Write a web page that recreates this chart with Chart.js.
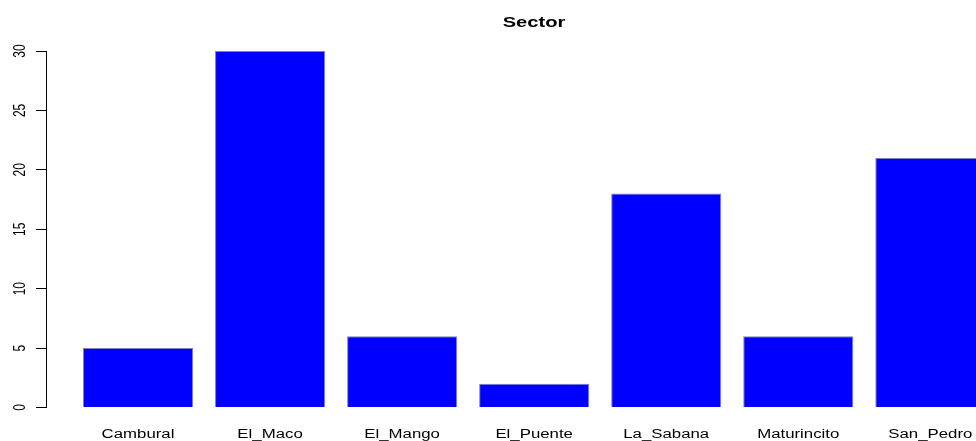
<!DOCTYPE html>
<html><head><meta charset="utf-8">
<script src="https://cdn.jsdelivr.net/npm/chart.js@4"></script>
<style>html,body{margin:0;padding:0;background:#fff;overflow:hidden}#wrap{width:976px;height:441px}</style>
</head><body><div id="wrap"><canvas id="c" width="976" height="441"></canvas></div>
<script>
const titleText = 'Sector';
const categories = ['Cambural','El_Maco','El_Mango','El_Puente','La_Sabana','Maturincito','San_Pedro'];
const counts = [5, 30, 6, 2, 18, 6, 21];
const yTicks = [0, 5, 10, 15, 20, 25, 30];
const positions = categories.map((c, i) => i + 1);

const stretch = 1.4;
const FONT = '"Liberation Sans", Arial, Helvetica, sans-serif';

const labelPlugin = {
  id: 'rlabels',
  afterDraw(chart) {
    const ctx = chart.ctx, xs = chart.scales.x, ys = chart.scales.y;
    ctx.save();
    ctx.fillStyle = '#000';
    ctx.textAlign = 'center';
    ctx.textBaseline = 'alphabetic';
    ctx.font = '12px ' + FONT;
    categories.forEach((c, i) => {
      const x = xs.getPixelForValue(positions[i]);
      ctx.save(); ctx.translate(x, 438); ctx.scale(stretch, 1); ctx.fillText(c, 0, 0); ctx.restore();
    });
    yTicks.forEach(v => {
      const y = ys.getPixelForValue(v);
      ctx.save(); ctx.translate(24.5, y); ctx.scale(stretch, 1); ctx.rotate(-Math.PI / 2); ctx.fillText(String(v), 0, 0); ctx.restore();
    });
    ctx.font = 'bold 14.4px ' + FONT;
    ctx.save(); ctx.translate(534, 27); ctx.scale(stretch, 1); ctx.fillText(titleText, 0, 0); ctx.restore();
    ctx.restore();
  }
};

new Chart(document.getElementById('c'), {
  type: 'bar',
  data: {
    datasets: [{
      label: titleText,
      data: counts.map((v, i) => ({ x: positions[i], y: v })),
      backgroundColor: '#0000FF',
      borderColor: '#7f7fbf',
      borderWidth: 1,
      categoryPercentage: 1,
      barPercentage: 1 / 1.2
    }]
  },
  options: {
    responsive: false,
    animation: false,
    layout: { padding: { top: 51, bottom: 33.5, left: 0, right: 0 } },
    plugins: { legend: { display: false }, tooltip: { enabled: false }, title: { display: false } },
    scales: {
      x: {
        type: 'linear',
        display: false,
        offset: false,
        min: 0.3033,
        max: 7.346,
        afterBuildTicks: s => { s.ticks = positions.map(v => ({ value: v })); }
      },
      y: {
        min: 0, max: 30,
        ticks: { display: false, stepSize: 5 },
        grid: { drawOnChartArea: false, drawTicks: true, tickLength: 10, color: '#000' },
        border: { display: true, color: '#000', width: 1 },
        afterFit: s => { s.width = 46; }
      }
    }
  },
  plugins: [labelPlugin]
});
</script></body></html>
